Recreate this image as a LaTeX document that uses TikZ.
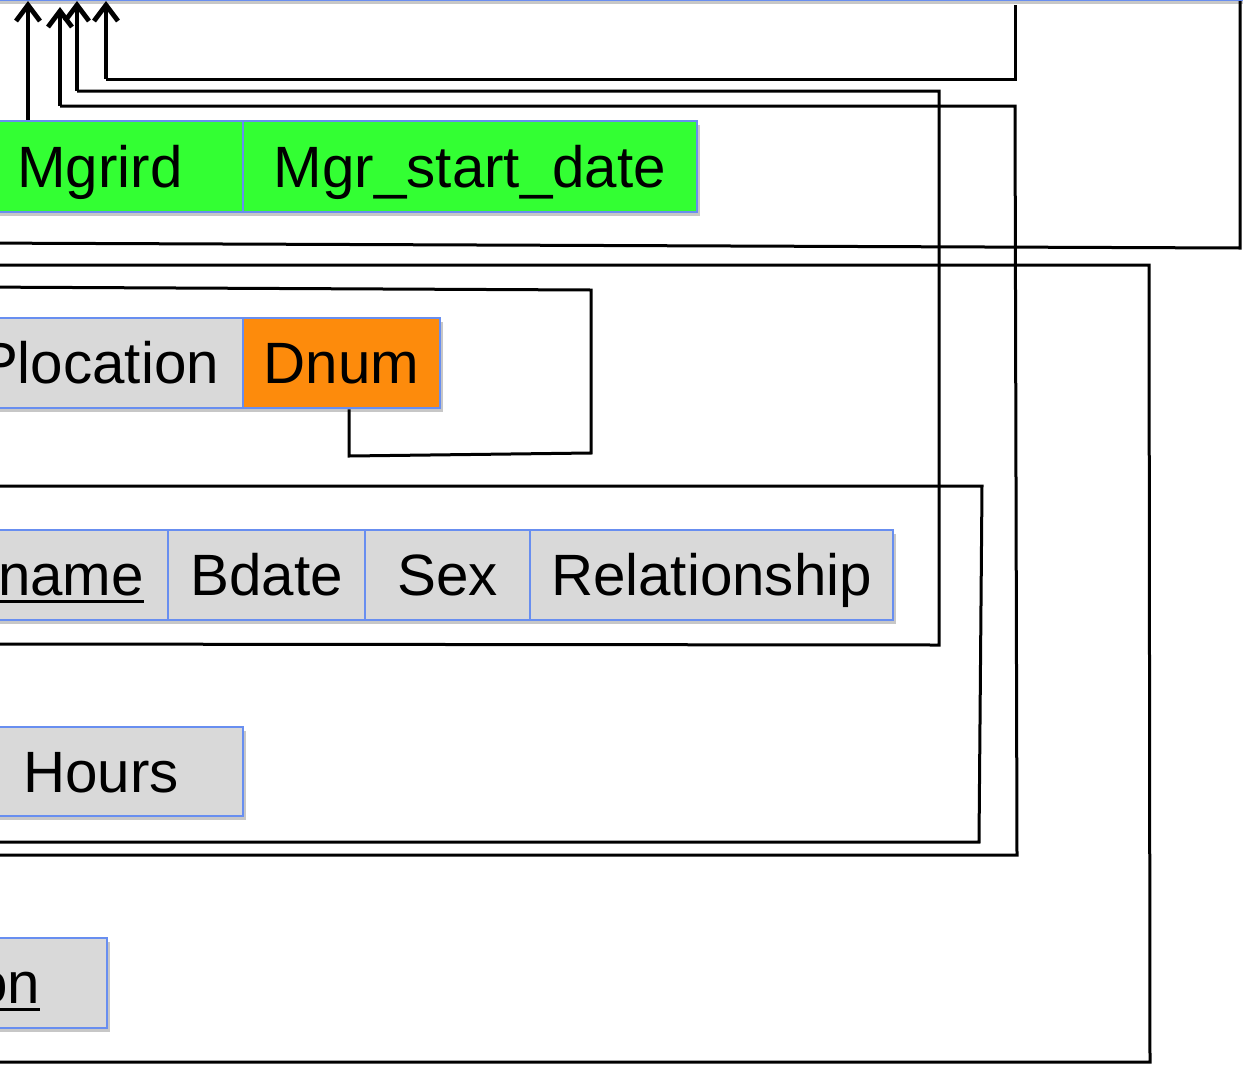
\documentclass[tikz,border=0pt]{standalone}
\usepackage{fontspec}
\setmainfont{Liberation Sans}
\usetikzlibrary{arrows.meta,shadows}

\definecolor{cellblue}{RGB}{104,142,240}
\definecolor{cellgray}{RGB}{217,217,217}
\definecolor{mgrgreen}{RGB}{51,255,51}
\definecolor{fkorange}{RGB}{253,139,12}

% primary-key attribute: text with a thick rule beneath it
\newcommand\keyattr[1]{\setbox0\hbox{#1}\rlap{\vrule width\wd0 height -4pt depth 7pt}\box0}

\begin{document}
\begin{tikzpicture}[x=1pt,y=-1pt,
  attr/.style={draw=cellblue, line width=2.6pt, fill=cellgray, inner sep=0pt,
    font=\fontsize{58.3}{60}\selectfont, text height=41pt, text depth=0pt,
    drop shadow={shadow xshift=3pt, shadow yshift=-4pt, draw=none, fill=black, opacity=0.22}},
  rowcell/.style={attr, anchor=south west, minimum height=101pt},
  fk/.style={line width=3pt, black},
  fkarrow/.style={line width=4.8pt, black, -{Straight Barb[length=16pt,width=24pt]}}
]
\useasboundingbox (0,0) rectangle (1243,1066);
\fill[white] (0,0) rectangle (1243,1066);
\clip (0,0) rectangle (1243,1066);

% x positions of the vertical connector tracks
\path (28,0) coordinate (tA) (60,0) coordinate (tB) (77,0) coordinate (tC)
      (106,0) coordinate (tD) (1015,0) coordinate (tE) (1240,0) coordinate (tG)
      (349,0) coordinate (tK);

% top relation row (only its lower edge lies inside the frame)
\node[rowcell, minimum width=73pt]  (emp0)  at (-60,1) {};
\node[rowcell, minimum width=120pt] (ssn)   at (13,1) {};
\node[rowcell, minimum width=170pt] (emp2)  at (133,1) {};
\node[rowcell, minimum width=240pt] (emp3)  at (303,1) {};
\node[rowcell, minimum width=120pt] (emp4)  at (543,1) {};
\node[rowcell, minimum width=185pt] (emp5)  at (663,1) {};
\node[rowcell, minimum width=315pt] (super) at (848,1) {};
\node[rowcell, minimum width=140pt] (dno)   at (1163,1) {};

% department row
\node[attr, fill=mgrgreen, minimum width=286pt, minimum height=91pt] (mgr) at (100,166.5) {Mgrird};
\node[attr, fill=mgrgreen, minimum width=454pt, minimum height=91pt] (mgrdate) at (470,166.5) {Mgr\_start\_date};

% project row
\node[attr, minimum width=288pt, minimum height=90pt] (ploc) at (99,363) {Plocation};
\node[attr, fill=fkorange, minimum width=197pt, minimum height=90pt] (dnum) at (341.5,363) {Dnum};

% dependent row
\node[attr, minimum width=194pt, minimum height=90pt] (dname) at (71,575) {\keyattr{name}};
\node[attr, minimum width=197pt, minimum height=90pt] (bdate) at (266.5,575) {Bdate};
\node[attr, minimum width=165pt, minimum height=90pt] (sex) at (447.5,575) {Sex};
\node[attr, minimum width=363pt, minimum height=90pt] (rel) at (711.5,575) {Relationship};

% works-on row
\node[attr, minimum width=284pt, minimum height=89pt] (hours) at (101,771.5) {Hours};

% department-locations row
\node[attr, minimum width=198pt, minimum height=90pt] (dloc) at (8,983) {\keyattr{on}};

% free ends of connectors that leave the frame on the left
\coordinate (dnoEnd)   at (-30,243);
\coordinate (dlnEnd)   at (-30,1062);
\coordinate (dlnTo)    at (-30,265);
\coordinate (dnumTo)   at (-30,287);
\coordinate (pnoFrom)  at (-30,842);
\coordinate (pnoTo)    at (-30,486);
\coordinate (depFrom)  at (-30,644);
\coordinate (woFrom)   at (-30,855);

% foreign keys
\draw[fkarrow] (tA |- mgr.north) -- (tA |- ssn.south);

\draw[fk, shorten <=4pt] (tE |- super.south) -- (1015,79) -- (106,79);
\draw[fkarrow] (106,79) -- (tD |- ssn.south);

\draw[fk] (depFrom) -- (939,645) -- (939,91) -- (77,91);
\draw[fkarrow] (77,91) -- (tC |- ssn.south);

\draw[fk] (woFrom) -- (1017,855) -- (1015,106) -- (60,106);
\draw[fkarrow, shorten >=6pt] (60,106) -- (tB |- ssn.south);

\draw[fk] (tG |- dno.south) -- (1240,248) -- (dnoEnd);

\draw[fk] (dlnEnd) -- (1150,1062) -- (1149,265) -- (dlnTo);

\draw[fk] (tK |- dnum.south) -- (349,456) -- (591,453) -- (591,290) -- (dnumTo);

\draw[fk] (pnoFrom) -- (979,842) -- (982,486) -- (pnoTo);
\end{tikzpicture}
\end{document}
